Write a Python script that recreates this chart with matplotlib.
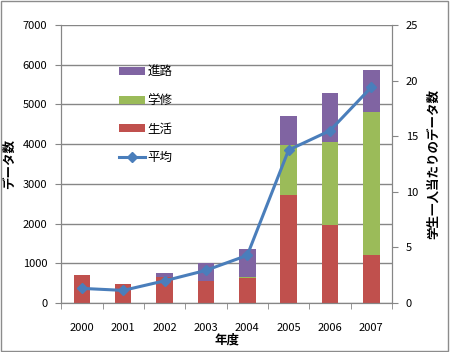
import matplotlib
matplotlib.use("Agg")
import matplotlib.pyplot as plt
import numpy as np
from matplotlib.patches import Rectangle

plt.rcParams['font.family'] = ['Noto Sans CJK JP', 'DejaVu Sans']

years = ["2000", "2001", "2002", "2003", "2004", "2005", "2006", "2007"]
seikatsu = [710, 490, 650, 565, 620, 2730, 1965, 1210]   # 生活
gakushu = [0, 0, 0, 0, 30, 1240, 2100, 3590]             # 学修
shinro = [0, 0, 110, 435, 700, 735, 1220, 1075]          # 進路
average = [1.32, 1.14, 2.0, 2.94, 4.29, 13.76, 15.5, 19.4]  # 平均

c_red = "#C0504D"
c_green = "#9BBB59"
c_purple = "#8064A2"
c_blue = "#4A7EBB"
c_grid = "#868686"

fig = plt.figure(figsize=(4.5, 3.52), dpi=100)
fig.patches.append(Rectangle((0.002, 0.004), 0.994, 0.992, transform=fig.transFigure,
                             fill=False, edgecolor="#8C8C8C", linewidth=1))
ax = fig.add_axes([0.136, 0.139, 0.735, 0.79])
ax2 = ax.twinx()

x = np.arange(len(years))
w = 0.4
b1 = np.array(seikatsu)
b2 = b1 + np.array(gakushu)
ax.bar(x, seikatsu, w, color=c_red, label="生活", zorder=2)
ax.bar(x, gakushu, w, bottom=b1, color=c_green, label="学修", zorder=2)
ax.bar(x, shinro, w, bottom=b2, color=c_purple, label="進路", zorder=2)
line, = ax2.plot(x, average, color=c_blue, linewidth=2.2, marker="D",
                 markersize=5.5, label="平均")

ax.set_xlim(-0.5, len(years) - 0.5)
ax.set_ylim(0, 7000)
ax.set_yticks(range(0, 7001, 1000))
ax.yaxis.grid(True, color=c_grid, linewidth=1, zorder=0)
ax.set_axisbelow(True)
ax2.set_ylim(0, 25)
ax2.set_yticks(range(0, 26, 5))

ax.set_xticks(x)
ax.set_xticklabels(years)
ax.set_xticks(np.arange(-0.5, len(years), 1), minor=True)
ax.tick_params(axis="x", which="major", length=0, pad=14, labelsize=8)
ax.tick_params(axis="x", which="minor", length=4, color=c_grid)
ax.tick_params(axis="y", length=4, color=c_grid, labelsize=8, pad=6)
ax2.tick_params(axis="y", length=4, color=c_grid, labelsize=8, pad=6)

for a in (ax, ax2):
    a.spines["top"].set_visible(False)
    for s in ("left", "right", "bottom"):
        a.spines[s].set_color(c_grid)

ax.set_xlabel("年度", fontsize=9, fontweight="bold", labelpad=1)
ax.set_ylabel("データ数", fontsize=9, fontweight="bold", labelpad=5)
ax2.set_ylabel("学生一人当たりのデータ数", fontsize=9, fontweight="bold", labelpad=6)

h, l = ax.get_legend_handles_labels()
handles = [h[2], h[1], h[0], line]
labels = [l[2], l[1], l[0], "平均"]
ax2.legend(handles, labels, loc="upper left", bbox_to_anchor=(0.14, 0.895),
           frameon=False, fontsize=9, labelspacing=1.25, handlelength=2.1,
           handleheight=0.6, handletextpad=0.2)

fig.savefig("out.png", dpi=100)
